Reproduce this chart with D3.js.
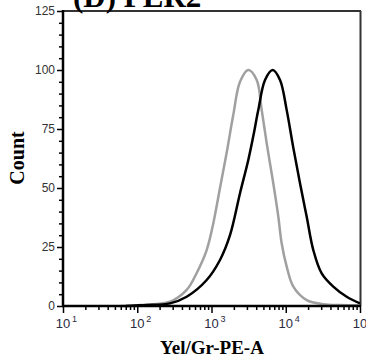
<!DOCTYPE html>
<html>
<head>
<meta charset="utf-8">
<script src="https://cdn.jsdelivr.net/npm/d3@7"></script>
<style>
  html, body { margin: 0; padding: 0; background: #fff; }
  svg { display: block; }
</style>
</head>
<body>
<svg id="chart" width="366" height="364"></svg>
<script>
// histogram traces (fluorescence, count)
let grayX = [60, 100, 109, 276, 463, 632, 861, 1057, 1301, 1602, 1966, 2421, 3131, 4062, 4745, 5534, 6793, 7943, 8810, 10300, 12650, 19150, 32060, 53830, 100000];
let grayY = [0, 0.2, 0.4, 1.8, 6.8, 14, 23.7, 35, 50, 65, 81, 95, 100, 95.8, 83, 69, 52, 37.8, 26.6, 16.7, 8.2, 2.5, 0.8, 0.4, 0.3];

let blackX = [70, 93, 134, 276, 463, 861, 1301, 1775, 2421, 3131, 3656, 4266, 5260, 6668, 8370, 10300, 12650, 15560, 19150, 23500, 30480, 43650, 66220, 100000];
let blackY = [0, 0.2, 0.4, 1.1, 3.9, 11, 19.5, 30, 47.8, 61.9, 72, 83, 95.8, 100, 95.8, 83, 67, 52, 37.8, 23.7, 13.8, 8.2, 3.9, 1.1];

let yTicks = [0, 25, 50, 75, 100, 125];
let xDecades = [1, 2, 3, 4, 5];

let svg = d3.select('#chart');

let x = d3.scaleLog().domain([10, 1e5]).range([63, 360]);
let y = d3.scaleLinear().domain([0, 125]).range([306, 11]);

// frame top + right (thin dark)
svg.append('line').attr('x1', 63).attr('x2', 361).attr('y1', 11).attr('y2', 11)
    .attr('stroke', '#333').attr('stroke-width', 2);
svg.append('line').attr('x1', 360.5).attr('x2', 360.5).attr('y1', 11).attr('y2', 306)
    .attr('stroke', '#333').attr('stroke-width', 2);

// curves
let line = d3.line()
    .x(d => x(d[0]))
    .y(d => y(d[1]))
    .curve(d3.curveCatmullRom.alpha(0.5));

svg.append('path')
    .datum(grayX.map((v, i) => [v, grayY[i]]))
    .attr('d', line)
    .attr('fill', 'none')
    .attr('stroke', '#a0a0a0')
    .attr('stroke-width', 2.5);

svg.append('path')
    .datum(blackX.map((v, i) => [v, blackY[i]]))
    .attr('d', line)
    .attr('fill', 'none')
    .attr('stroke', '#000')
    .attr('stroke-width', 2.5);

// y axis
let yMinor = d3.range(0, 126, 5).filter(v => v % 25 !== 0);
svg.append('g')
    .attr('transform', 'translate(63,0)')
    .call(d3.axisLeft(y).tickValues(yMinor).tickSize(4).tickFormat(''))
    .call(g => g.select('.domain').remove())
    .call(g => g.selectAll('line').attr('stroke', '#000').attr('stroke-width', 1.5));

svg.append('g')
    .attr('transform', 'translate(63,0)')
    .call(d3.axisLeft(y).tickValues(yTicks).tickSize(6).tickPadding(2))
    .call(g => g.select('.domain').remove())
    .call(g => g.selectAll('line').attr('stroke', '#000').attr('stroke-width', 1.5))
    .call(g => g.selectAll('text')
        .attr('font-family', 'Arial, "Liberation Sans", sans-serif')
        .attr('font-size', 12)
        .attr('fill', '#333'));

// x axis ticks
let xMinor = [];
for (let k = 1; k < 5; k++) {
    for (let m = 2; m < 10; m++) xMinor.push(m * Math.pow(10, k));
}
svg.append('g')
    .attr('transform', 'translate(0,306)')
    .call(d3.axisBottom(x).tickValues(xMinor).tickSize(4).tickFormat(''))
    .call(g => g.select('.domain').remove())
    .call(g => g.selectAll('line').attr('stroke', '#000').attr('stroke-width', 1.5));

svg.append('g')
    .attr('transform', 'translate(0,306)')
    .call(d3.axisBottom(x).tickValues(xDecades.map(k => Math.pow(10, k))).tickSize(7).tickFormat(''))
    .call(g => g.select('.domain').remove())
    .call(g => g.selectAll('line').attr('stroke', '#000').attr('stroke-width', 1.5));

// x tick labels: 10 with superscript
let xl = svg.append('g')
    .attr('font-family', 'Arial, "Liberation Sans", sans-serif')
    .attr('fill', '#2a2a40');
xDecades.forEach(function(k){
    let px = x(Math.pow(10, k));
    xl.append('text')
        .attr('x', px).attr('y', 328)
        .attr('text-anchor', 'middle')
        .attr('font-size', 13)
        .text('10');
    xl.append('text')
        .attr('x', px + 9).attr('y', 322)
        .attr('font-size', 9)
        .text(k);
});

// axis lines (thick black)
svg.append('line').attr('x1', 63).attr('x2', 63).attr('y1', 10).attr('y2', 307)
    .attr('stroke', '#000').attr('stroke-width', 2.5);
svg.append('line').attr('x1', 62).attr('x2', 361).attr('y1', 306).attr('y2', 306)
    .attr('stroke', '#000').attr('stroke-width', 2.5);

// titles
svg.append('text')
    .attr('x', 73).attr('y', 7)
    .attr('font-family', '"Liberation Serif", "Times New Roman", serif')
    .attr('font-weight', 'bold')
    .attr('font-size', 31)
    .text('(D) PER2');

svg.append('text')
    .attr('transform', 'translate(24,158) rotate(-90)')
    .attr('text-anchor', 'middle')
    .attr('font-family', '"Liberation Serif", "Times New Roman", serif')
    .attr('font-weight', 'bold')
    .attr('font-size', 20)
    .text('Count');

svg.append('text')
    .attr('x', 212).attr('y', 354)
    .attr('text-anchor', 'middle')
    .attr('font-family', '"Liberation Serif", "Times New Roman", serif')
    .attr('font-weight', 'bold')
    .attr('font-size', 19)
    .text('Yel/Gr-PE-A');
</script>
</body>
</html>
